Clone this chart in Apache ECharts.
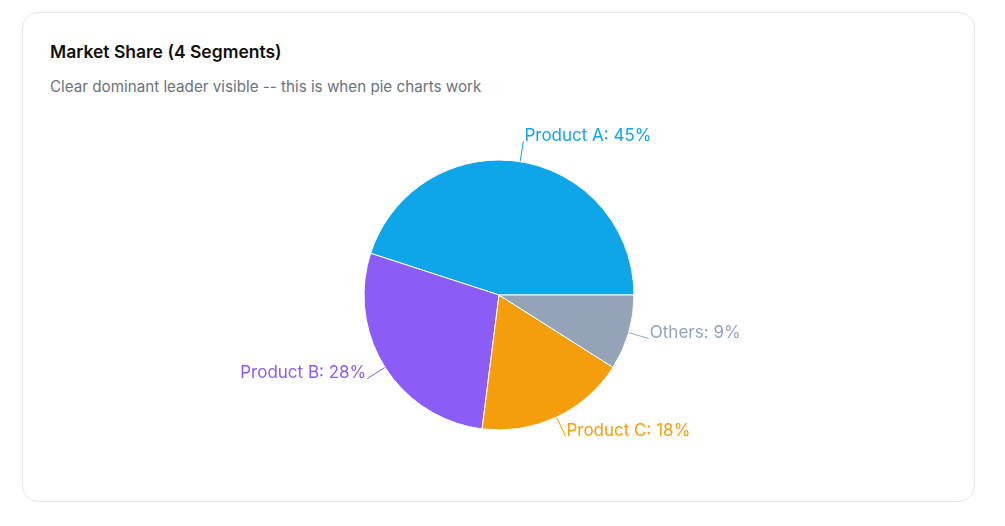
<!DOCTYPE html>
<html>
<head>
<meta charset="utf-8">
<script src="https://cdn.jsdelivr.net/npm/echarts@6/dist/echarts.min.js"></script>
<style>
  html, body { margin: 0; padding: 0; background: #ffffff; font-family: Inter, "Noto Sans", sans-serif; }
  .card {
    position: absolute; left: 22px; top: 12px; width: 951px; height: 488px;
    border: 1px solid #e5e7eb; border-radius: 16px; background: #fff;
  }
  .title { position: absolute; left: 27px; top: 28px; font-size: 17.5px; font-weight: 600; color: #111; }
  .sub { position: absolute; left: 27px; top: 64px; font-size: 15.2px; color: #6b7280; }
  #chart { position: absolute; left: 0; top: 88px; width: 951px; height: 400px; }
</style>
</head>
<body>
<div class="card">
  <div class="title">Market Share (4 Segments)</div>
  <div class="sub">Clear dominant leader visible -- this is when pie charts work</div>
  <div id="chart"></div>
</div>
<script>
var categories = ['Product A', 'Product B', 'Product C', 'Others'];
var shares = [45, 28, 18, 9];
var colors = ['#0ea5e9', '#8b5cf6', '#f59e0b', '#94a3b8'];

var pieChart = echarts.init(document.getElementById('chart'));
var pieData = [];
for (var i = 0; i < categories.length; i++) {
    pieData.push({
        name: categories[i],
        value: shares[i],
        itemStyle: { color: colors[i] },
        label: { color: colors[i] },
        labelLine: { lineStyle: { color: colors[i] } }
    });
}
pieChart.setOption({
    animation: false,
    series: [
        {
            type: 'pie',
            center: [476, 194],
            radius: 135,
            startAngle: 0,
            clockwise: false,
            itemStyle: { borderColor: '#fff', borderWidth: 1 },
            label: {
                formatter: '{t|{b}: {c}%}\n{gap|}',
                fontFamily: 'Inter',
                fontSize: 17,
                distanceToLabelLine: 1,
                rich: {
                    t: { fontFamily: 'Inter', fontSize: 17, lineHeight: 20 },
                    gap: { height: 11, lineHeight: 11 }
                }
            },
            labelLine: { length: 21, length2: 0 },
            data: pieData
        }
    ]
});
</script>
</body>
</html>
